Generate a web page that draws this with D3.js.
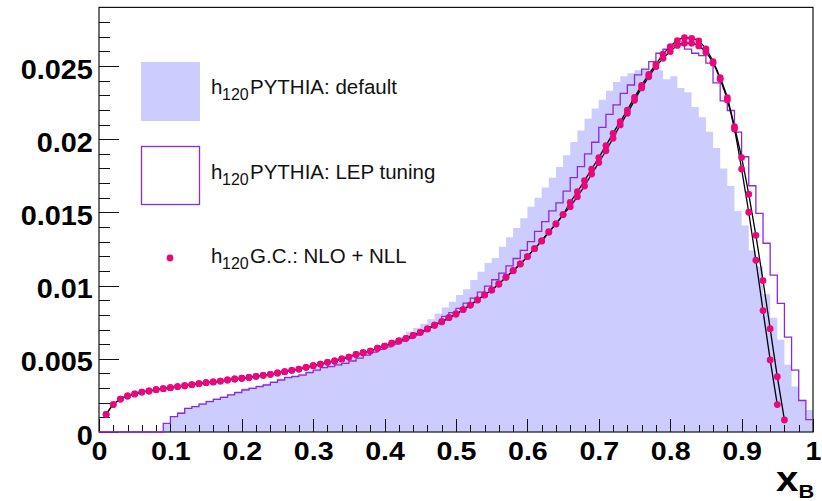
<!DOCTYPE html>
<html>
<head>
<meta charset="utf-8">
<script src="https://cdn.jsdelivr.net/npm/d3@7"></script>
<style>
  body { margin: 0; background: #fff; }
  text { font-family: "Liberation Sans", Arial, Helvetica, sans-serif; }
</style>
</head>
<body>
<div id="chart"></div>
<script>
// histogram bins: 100 bins of width 0.01 on [0,1]
const binWidth = 0.01;

const pythiaDefault = [
  0, 0, 0, 0, 0, 0, 0, 0, 0, 0.00059,
  0.00110, 0.00135, 0.00165, 0.00180, 0.00198, 0.00215, 0.00230, 0.00245, 0.00262, 0.00280,
  0.00298, 0.00305, 0.00320, 0.00330, 0.00348, 0.00365, 0.00380, 0.00390, 0.00400, 0.00418,
  0.00435, 0.00450, 0.00462, 0.00476, 0.00490, 0.00505, 0.00525, 0.00545, 0.00570, 0.00594,
  0.00610, 0.00630, 0.00651, 0.00685, 0.00710, 0.00740, 0.00770, 0.00810, 0.00850, 0.00890,
  0.00936, 0.00975, 0.01038, 0.01095, 0.01154, 0.01189, 0.01266, 0.01330, 0.01393, 0.01460,
  0.01539, 0.01600, 0.01670, 0.01737, 0.0181, 0.0189, 0.0198, 0.0206, 0.0214, 0.0221,
  0.0227, 0.0233, 0.0239, 0.0243, 0.0245, 0.0247, 0.0248, 0.0248, 0.0247, 0.0241,
  0.0243, 0.0235, 0.0232, 0.0222, 0.0215, 0.0205, 0.0194, 0.0180, 0.0168, 0.0151,
  0.0141, 0.0124, 0.0113, 0.0094, 0.0078, 0.0063, 0.0046, 0.0031, 0.0022, 0.0015
];

const pythiaLep = [
  0, 0, 0, 0, 0, 0, 0, 0, 0, 0.00059,
  0.00105, 0.00128, 0.00162, 0.00173, 0.00191, 0.00207, 0.00223, 0.00237, 0.00253, 0.00269,
  0.00287, 0.00298, 0.00310, 0.00321, 0.00339, 0.00355, 0.00371, 0.00378, 0.00389, 0.00405,
  0.00423, 0.00439, 0.00446, 0.00458, 0.00469, 0.00485, 0.00505, 0.00525, 0.00545, 0.00565,
  0.00582, 0.00600, 0.00620, 0.00640, 0.00662, 0.00688, 0.00715, 0.00745, 0.00790, 0.00815,
  0.00845, 0.00880, 0.00915, 0.00955, 0.00997, 0.01040, 0.01085, 0.01135, 0.01185, 0.01240,
  0.01300, 0.01370, 0.01437, 0.01510, 0.01565, 0.01645, 0.01737, 0.01812, 0.01900, 0.01979,
  0.02080, 0.02170, 0.02234, 0.02313, 0.02370, 0.02439, 0.02478, 0.02530, 0.02587, 0.02614,
  0.02637, 0.02643, 0.02615, 0.02587, 0.02570, 0.02520, 0.02385, 0.02261, 0.02196, 0.02048,
  0.01880, 0.01682, 0.01493, 0.01289, 0.01072, 0.00879, 0.00648, 0.00423, 0.00215, 0.00085
];

// G.C. NLO + NLL points at x = 0.01, 0.02, ...
const gcStep = 0.01;
const gcLow = [
  0.00121, 0.00187, 0.00225, 0.00246, 0.00260, 0.00273, 0.00280, 0.00289, 0.00296, 0.00303,
  0.00310, 0.00316, 0.00323, 0.00330, 0.00337, 0.00342, 0.00348, 0.00355, 0.00362, 0.00367,
  0.00373, 0.00380, 0.00387, 0.00394, 0.00403, 0.00412, 0.00421, 0.00430, 0.00442, 0.00453,
  0.00464, 0.00476, 0.00485, 0.00499, 0.00512, 0.00530, 0.00542, 0.00553, 0.00572, 0.00587,
  0.00606, 0.00622, 0.00640, 0.00660, 0.00681, 0.00704, 0.00729, 0.00753, 0.00781, 0.00806,
  0.00836, 0.00867, 0.00902, 0.00936, 0.00970, 0.01011, 0.01057, 0.01102, 0.01148, 0.01198,
  0.01252, 0.01305, 0.01366, 0.01421, 0.01485,
  0.01539, 0.01607, 0.01680, 0.01762, 0.01840, 0.01921, 0.02006, 0.02097, 0.02177, 0.02265,
  0.02350, 0.02426, 0.02495, 0.02552, 0.02598, 0.02640, 0.02655, 0.02655, 0.02637, 0.02594,
  0.02520, 0.02410, 0.02268, 0.02070, 0.01796, 0.01501, 0.01173, 0.00829, 0.00492, 0.00187
];
const gcHigh = [
  0.00121, 0.00187, 0.00225, 0.00246, 0.00260, 0.00273, 0.00280, 0.00289, 0.00296, 0.00303,
  0.00310, 0.00316, 0.00323, 0.00330, 0.00337, 0.00342, 0.00348, 0.00355, 0.00362, 0.00367,
  0.00373, 0.00380, 0.00387, 0.00394, 0.00403, 0.00412, 0.00421, 0.00430, 0.00442, 0.00453,
  0.00464, 0.00476, 0.00485, 0.00499, 0.00512, 0.00530, 0.00542, 0.00553, 0.00572, 0.00587,
  0.00606, 0.00622, 0.00640, 0.00660, 0.00681, 0.00704, 0.00729, 0.00753, 0.00781, 0.00806,
  0.00836, 0.00867, 0.00902, 0.00936, 0.00970, 0.01011, 0.01057, 0.01102, 0.01148, 0.01198,
  0.01252, 0.01305, 0.01366, 0.01421, 0.01485,
  0.01569, 0.01641, 0.01717, 0.01796, 0.01874, 0.01956, 0.02040, 0.02120, 0.02199, 0.02285,
  0.02368, 0.02442, 0.02512, 0.02580, 0.02632, 0.02673, 0.02693, 0.02689, 0.02671, 0.02616,
  0.02530, 0.02420, 0.02284, 0.02085, 0.01874, 0.01624, 0.01343, 0.01034, 0.00706, 0.00378,
  0.00082
];

const xTickLabels = ["0", "0.1", "0.2", "0.3", "0.4", "0.5", "0.6", "0.7", "0.8", "0.9", "1"];
const yTickLabels = ["0", "0.005", "0.01", "0.015", "0.02", "0.025"];
const legendLabels = ["PYTHIA: default", "PYTHIA: LEP tuning", "G.C.: NLO + NLL"];

const width = 822, height = 501;
const fillColor = "#ccccff";
const lepColor = "#8a2bd8";
const dotColor = "#e8087c";

const svg = d3.select("#chart").append("svg")
  .attr("width", width)
  .attr("height", height)
  .style("display", "block");

svg.append("rect").attr("width", width).attr("height", height).attr("fill", "#fff");

const x = d3.scaleLinear().domain([0, 1]).range([99, 813]);
const y = d3.scaleLinear().domain([0, 0.029]).range([432, 7.4]);

const histPoints = (vals) => {
  const pts = vals.map((v, i) => ({ x: i * binWidth, v: v }));
  pts.push({ x: 1, v: vals[vals.length - 1] });
  return pts;
};

// 1. default PYTHIA, filled
const area = d3.area()
  .curve(d3.curveStepAfter)
  .x(d => x(d.x))
  .y0(y(0))
  .y1(d => y(d.v));

svg.append("path")
  .attr("d", area(histPoints(pythiaDefault)))
  .attr("fill", fillColor);

// 2. axes
const xMajor = xTickLabels.map(Number);
const yMajor = yTickLabels.map(Number);

const xMinorAxis = d3.axisBottom(x)
  .tickValues(d3.range(0, 50).map(i => i * 0.02).filter(v => !xMajor.some(m => Math.abs(m - v) < 1e-9)))
  .tickSize(-7).tickFormat("");
svg.append("g").attr("transform", "translate(0,432)").call(xMinorAxis);

const xAxis = d3.axisBottom(x)
  .tickValues(xMajor)
  .tickSizeInner(-13).tickSizeOuter(0).tickPadding(9.5)
  .tickFormat((d, i) => xTickLabels[i]);
const gx = svg.append("g").attr("transform", "translate(0,432)").call(xAxis);
gx.selectAll("text")
  .attr("font-size", 26).attr("font-weight", "bold")
  .attr("font-family", "'Liberation Sans', Arial, Helvetica, sans-serif")
  .attr("fill", "#000")
  .attr("transform", "scale(1.1,1)");

const yMinorAxis = d3.axisLeft(y)
  .tickValues(d3.range(0, 29).map(i => i * 0.001).filter(v => !yMajor.some(m => Math.abs(m - v) < 1e-9)))
  .tickSize(-11).tickFormat("");
svg.append("g").attr("transform", "translate(99,0)").call(yMinorAxis);

const yAxis = d3.axisLeft(y)
  .tickValues(yMajor)
  .tickSizeInner(-20).tickSizeOuter(0).tickPadding(6)
  .tickFormat((d, i) => yTickLabels[i]);
const gy = svg.append("g").attr("transform", "translate(99,0)").call(yAxis);
gy.selectAll("text")
  .attr("font-size", 28).attr("font-weight", "bold")
  .attr("font-family", "'Liberation Sans', Arial, Helvetica, sans-serif")
  .attr("fill", "#000")
  .attr("dy", "0.43em")
  .attr("transform", "scale(1.03,1)");

svg.selectAll(".domain").remove();
svg.selectAll(".tick line").attr("stroke", "#111").attr("stroke-width", 1).attr("shape-rendering", "crispEdges");

// frame
svg.append("rect")
  .attr("x", x(0)).attr("y", y(0.029))
  .attr("width", x(1) - x(0)).attr("height", y(0) - y(0.029))
  .attr("fill", "none").attr("stroke", "#111").attr("stroke-width", 1.2);

// 3. LEP tuning, outline
const stepLine = d3.line()
  .curve(d3.curveStepAfter)
  .x(d => x(d.x))
  .y(d => y(d.v));

svg.append("path")
  .attr("d", stepLine(histPoints(pythiaLep)))
  .attr("fill", "none")
  .attr("stroke", lepColor)
  .attr("stroke-width", 1.3);

// 4. G.C. curves with points
const gcSeries = [gcLow, gcHigh].map(vals => vals.map((v, i) => ({ x: (i + 1) * gcStep, v: v })));

const gcLine = d3.line()
  .curve(d3.curveMonotoneX)
  .x(d => x(d.x))
  .y(d => y(d.v));

svg.selectAll(".gc-line").data(gcSeries).enter().append("path")
  .attr("class", "gc-line")
  .attr("d", gcLine)
  .attr("fill", "none")
  .attr("stroke", "#000")
  .attr("stroke-width", 1.3);

svg.selectAll(".gc-dots").data(gcSeries).enter().append("g")
  .attr("class", "gc-dots")
  .selectAll("circle").data(d => d).enter().append("circle")
  .attr("cx", d => x(d.x))
  .attr("cy", d => y(d.v))
  .attr("r", 3.4)
  .attr("fill", dotColor);

// 5. legend
const legend = svg.append("g");
legend.append("rect")
  .attr("x", 141).attr("y", 62).attr("width", 59).attr("height", 59)
  .attr("fill", fillColor);
legend.append("rect")
  .attr("x", 141.5).attr("y", 146.5).attr("width", 58).attr("height", 58)
  .attr("fill", "none").attr("stroke", lepColor).attr("stroke-width", 1.3);
legend.append("circle")
  .attr("cx", 170).attr("cy", 258).attr("r", 3.4)
  .attr("fill", dotColor);

const legendY = [94, 178.5, 263];
legendLabels.forEach((label, i) => {
  const t = legend.append("text")
    .attr("x", 211).attr("y", legendY[i])
    .attr("font-size", 20.5).attr("fill", "#111");
  t.append("tspan").text("h");
  t.append("tspan").attr("x", 222).attr("dy", 6).attr("font-size", 16).text("120");
  t.append("tspan").attr("x", 250).attr("dy", -6).text(label);
});

// x title (subscript kept just inside the bottom edge)
const title = svg.append("text")
  .attr("transform", "translate(776,491) scale(1.15,1)")
  .attr("font-weight", "bold").attr("fill", "#000");
title.append("tspan").attr("font-size", 35).text("x");
title.append("tspan").attr("font-size", 19).attr("dy", 7).text("B");
</script>
</body>
</html>
